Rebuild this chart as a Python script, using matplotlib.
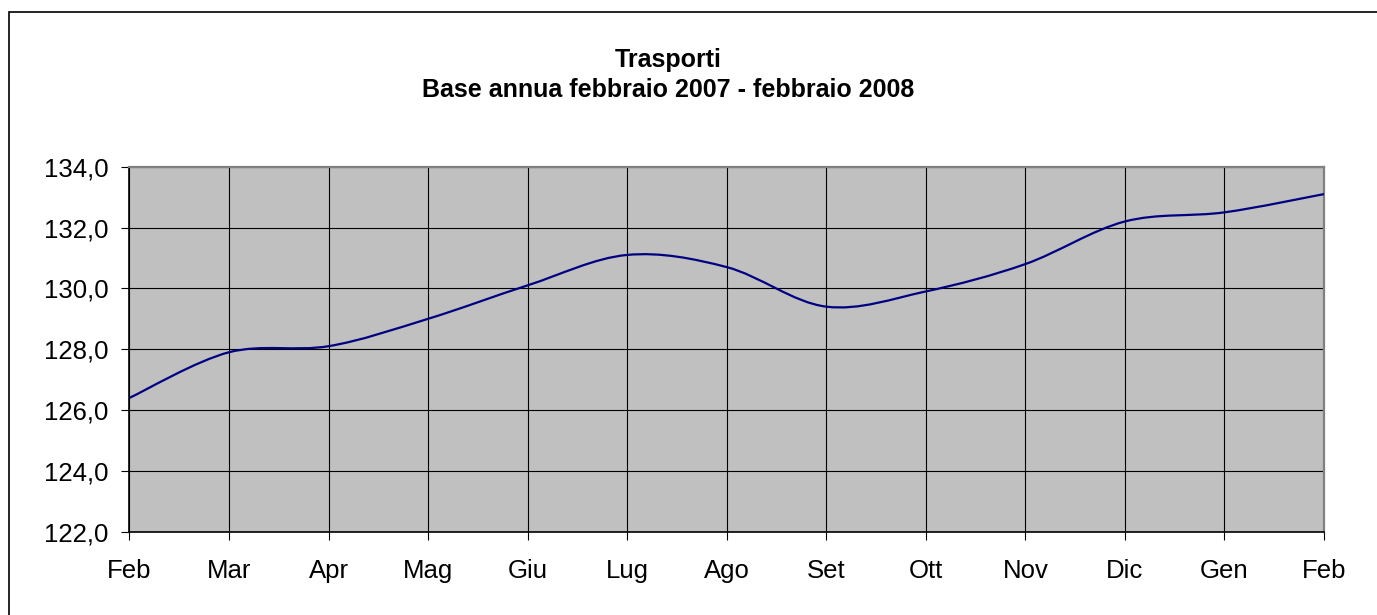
import numpy as np
import matplotlib
matplotlib.use('Agg')
import matplotlib.pyplot as plt
from matplotlib.path import Path
from matplotlib.patches import PathPatch, Rectangle

plt.rcParams['font.family'] = ['Liberation Sans', 'DejaVu Sans']

# Data
months = ['Feb', 'Mar', 'Apr', 'Mag', 'Giu', 'Lug', 'Ago', 'Set', 'Ott', 'Nov', 'Dic', 'Gen', 'Feb']
values = [126.4, 127.9, 128.1, 129.0, 130.1, 131.1, 130.7, 129.4, 129.9, 130.8, 132.2, 132.5, 133.1]
y_ticks = [122, 124, 126, 128, 130, 132, 134]


def smooth_path(xs, ys):
    # Catmull-Rom style bezier, like the smoothed line of a spreadsheet chart
    pts = np.column_stack([xs, ys]).astype(float)
    n = len(pts)
    verts = [pts[0]]
    codes = [Path.MOVETO]
    for i in range(n - 1):
        p_prev = pts[i - 1] if i > 0 else pts[i]
        p0, p1 = pts[i], pts[i + 1]
        p_next = pts[i + 2] if i + 2 < n else pts[i + 1]
        c1 = p0 + (p1 - p_prev) / 6.0
        c2 = p1 - (p_next - p0) / 6.0
        verts += [c1, c2, p1]
        codes += [Path.CURVE4] * 3
    return Path(verts, codes)


fig = plt.figure(figsize=(13.77, 6.15), dpi=100)
ax = fig.add_axes([0.0940, 0.1354, 0.9615 - 0.0940, 0.7289 - 0.1354])
ax.set_facecolor('#C0C0C0')

x = np.arange(len(months))
ax.add_patch(PathPatch(smooth_path(x, values), facecolor='none', edgecolor='#000080', lw=1.6, zorder=3))

ax.set_xlim(0, len(months) - 1)
ax.set_ylim(122, 134)
ax.set_xticks(x)
ax.set_xticklabels(months, fontsize=18.5)
ax.set_yticks(y_ticks)
ax.set_yticklabels([f'{v:.1f}'.replace('.', ',') for v in y_ticks], fontsize=18.5)
ax.tick_params(axis='x', length=5.5, width=0.8, color='black', pad=14)
ax.tick_params(axis='y', length=5.8, width=0.8, color='black', pad=9.5)

ax.grid(True, color='black', lw=0.8)
ax.set_axisbelow(True)
for s in ['left', 'bottom']:
    ax.spines[s].set_color('black')
    ax.spines[s].set_linewidth(1.2)
for s in ['top', 'right']:
    ax.spines[s].set_color('#808080')
    ax.spines[s].set_linewidth(1.6)

fig.text(668 / 1377, 1 - 67 / 615, 'Trasporti', ha='center', va='baseline', fontsize=18, fontweight='bold')
fig.text(668 / 1377, 1 - 97 / 615, 'Base annua febbraio 2007 - febbraio 2008', ha='center', va='baseline',
         fontsize=18, fontweight='bold')

# outer chart border
fig.patches.append(Rectangle((9 / 1377, -0.1), 1.5, 1 - 12 / 615 + 0.1, transform=fig.transFigure,
                             fill=False, edgecolor='black', lw=1.2, clip_on=False))

fig.savefig('out.png', dpi=100)
